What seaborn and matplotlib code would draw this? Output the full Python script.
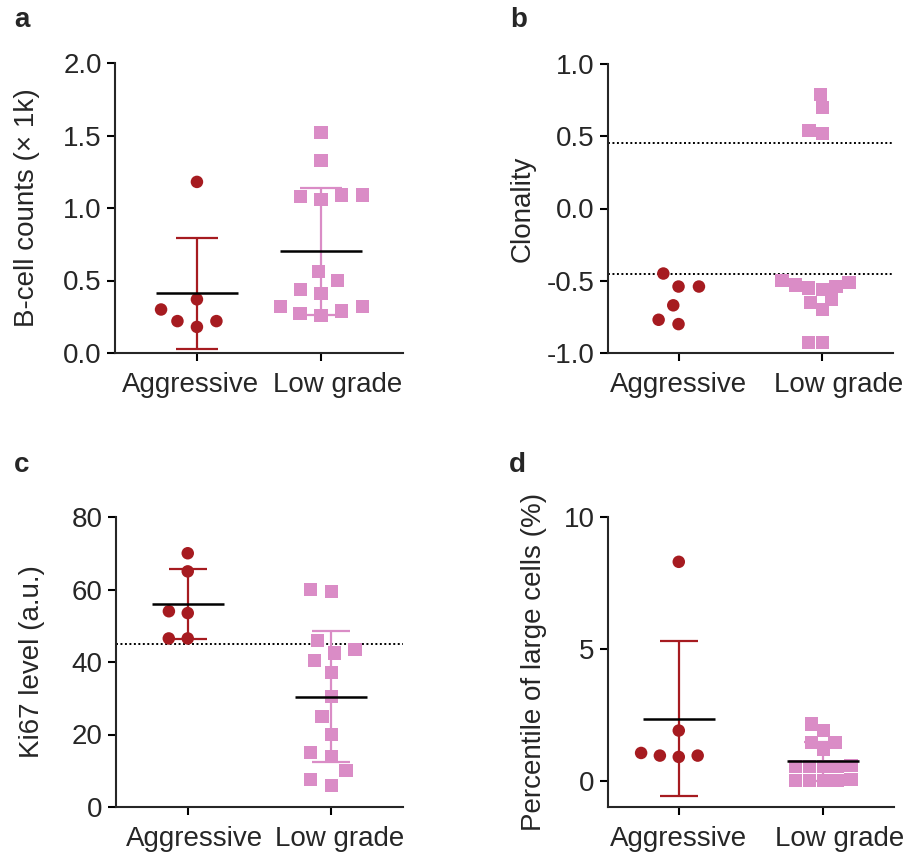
import numpy as np
import pandas as pd
import matplotlib
matplotlib.use("Agg")
import matplotlib.pyplot as plt
import matplotlib.transforms as mtransforms
from matplotlib.ticker import FormatStrFormatter
import seaborn as sns

# --- DATA ---
GROUPS = ["Aggressive", "Low grade"]

bcell_aggr = [1.18, 0.37, 0.22, 0.18, 0.22, 0.30]
bcell_low = [1.52, 1.33, 1.09, 1.08, 1.06, 1.09, 0.56, 0.50, 0.44, 0.41,
             0.32, 0.29, 0.26, 0.27, 0.32]

clon_aggr = [-0.45, -0.54, -0.54, -0.67, -0.80, -0.77]
clon_low = [0.79, 0.70, 0.54, 0.52, -0.50, -0.51, -0.53, -0.54, -0.55,
            -0.56, -0.63, -0.65, -0.70, -0.93, -0.93]
clon_cutoffs = [0.45, -0.45]

ki67_aggr = [70, 65, 54, 53.5, 46.5, 46.5]
ki67_low = [60, 59.5, 46, 43.5, 42.5, 40.5, 37, 30.5, 25, 20, 15, 14, 10,
            7.5, 6]
ki67_cutoffs = [45]

large_aggr = [8.3, 1.9, 0.95, 0.9, 0.95, 1.05]
large_low = [2.15, 1.90, 1.46, 1.46, 1.20, 0.56, 0.55, 0.54, 0.54, 0.53,
             0.03, 0.02, 0.01, 0.0, 0.0]

# --- STYLE / LAYOUT ---
RED = "#A61B20"
PINK = "#DA8CC6"
W, H = 912, 856

# spread: invisible edge width (pt) that widens the swarm spacing per group
PANELS = [
    dict(letter="a", pos=(14, 27), aggr=bcell_aggr, low=bcell_low,
         ylabel="B-cell counts (× 1k)", ylim=(0, 2.0),
         yticks=[0, 0.5, 1.0, 1.5, 2.0], fmt="%.1f", cutoffs=[], summary=True,
         rect=(115, 63, 403, 353), xlim=(-0.66, 1.66), label_x=-0.26,
         tick_dx=(-6, 17), mean_ms=59, cap=15, spread=(5, 5)),
    dict(letter="b", pos=(510, 27), aggr=clon_aggr, low=clon_low,
         ylabel="Clonality", ylim=(-1.0, 1.0),
         yticks=[-1.0, -0.5, 0.0, 0.5, 1.0], fmt="%.1f", cutoffs=clon_cutoffs,
         summary=False, rect=(608, 64, 893, 353), xlim=(-0.49, 1.49),
         label_x=-0.253, tick_dx=(0, 16), mean_ms=52, cap=13.5, spread=(5, 0)),
    dict(letter="c", pos=(14, 472), aggr=ki67_aggr, low=ki67_low,
         ylabel="Ki67 level (a.u.)", ylim=(0, 80),
         yticks=[0, 20, 40, 60, 80], fmt="%d", cutoffs=ki67_cutoffs,
         summary=True, rect=(116, 517, 403, 807), xlim=(-0.5, 1.5),
         label_x=-0.247, tick_dx=(7, 8), mean_ms=52, cap=13.5, spread=(4, 5)),
    dict(letter="d", pos=(509, 472), aggr=large_aggr, low=large_low,
         ylabel="Percentile of large cells (%)", ylim=(-1.0, 10),
         yticks=[0, 5, 10], fmt="%d", cutoffs=[], summary=True,
         rect=(608, 517, 894, 807), xlim=(-0.49, 1.49),
         label_x=-0.213, tick_dx=(0, 16), mean_ms=52, cap=13.5, spread=(4, 0)),
]

sns.set_style("ticks")
plt.rcParams["font.family"] = ["Liberation Sans", "DejaVu Sans"]
plt.rcParams["axes.unicode_minus"] = False

fig = plt.figure(figsize=(W / 100, H / 100), dpi=100)

for p in PANELS:
    L, T, R, B = p["rect"]
    ax = fig.add_axes([L / W, 1 - B / H, (R - L) / W, (B - T) / H])

    df = pd.DataFrame({
        "group": [GROUPS[0]] * len(p["aggr"]) + [GROUPS[1]] * len(p["low"]),
        "value": list(p["aggr"]) + list(p["low"]),
    })

    sns.swarmplot(data=df[df["group"] == GROUPS[0]], x="group", y="value",
                  order=GROUPS, color=RED, marker="o", size=9,
                  linewidth=p["spread"][0], edgecolor="none", warn_thresh=1, ax=ax)
    sns.swarmplot(data=df[df["group"] == GROUPS[1]], x="group", y="value",
                  order=GROUPS, color=PINK, marker="s", size=9.5,
                  linewidth=p["spread"][1], edgecolor="none", warn_thresh=1, ax=ax)

    if p["summary"]:
        stats = df.groupby("group")["value"].agg(["mean", "std"]).loc[GROUPS]
        for i, (g, col) in enumerate(zip(GROUPS, [RED, PINK])):
            m, sd = stats.loc[g, "mean"], stats.loc[g, "std"]
            ax.errorbar(i, m, yerr=sd, fmt="none", ecolor=col, elinewidth=1.6,
                        capsize=p["cap"], capthick=1.6, zorder=3)
            ax.plot([i], [m], marker="_", ms=p["mean_ms"], mew=1.8,
                    color="black", zorder=4)

    for c in p["cutoffs"]:
        ax.axhline(c, color="black", lw=1.4, ls=(0, (1, 1.3)), zorder=2)

    ax.set_xlim(*p["xlim"])
    ax.set_ylim(*p["ylim"])
    ax.set_yticks(p["yticks"])
    ax.yaxis.set_major_formatter(FormatStrFormatter(p["fmt"]))
    ax.set_xticks([0, 1])
    ax.set_xticklabels(GROUPS)
    ax.set_xlabel("")
    ax.set_ylabel(p["ylabel"], fontsize=20)
    ax.yaxis.set_label_coords(p["label_x"], 0.5)

    for side in ["top", "right"]:
        ax.spines[side].set_visible(False)
    for side in ["left", "bottom"]:
        ax.spines[side].set_linewidth(1.5)
    ax.tick_params(axis="both", width=1.5, length=5.5, labelsize=20,
                   color="black")
    ax.tick_params(axis="x", pad=8)
    ax.tick_params(axis="y", pad=4)

    for lab, dx in zip(ax.get_xticklabels(), p["tick_dx"]):
        lab.set_transform(lab.get_transform() +
                          mtransforms.ScaledTranslation(dx / 100, 0, fig.dpi_scale_trans))

    fig.text(p["pos"][0] / W, 1 - p["pos"][1] / H, p["letter"], fontsize=20,
             fontweight="bold", va="baseline", ha="left")

fig.savefig("out.png", dpi=100)
